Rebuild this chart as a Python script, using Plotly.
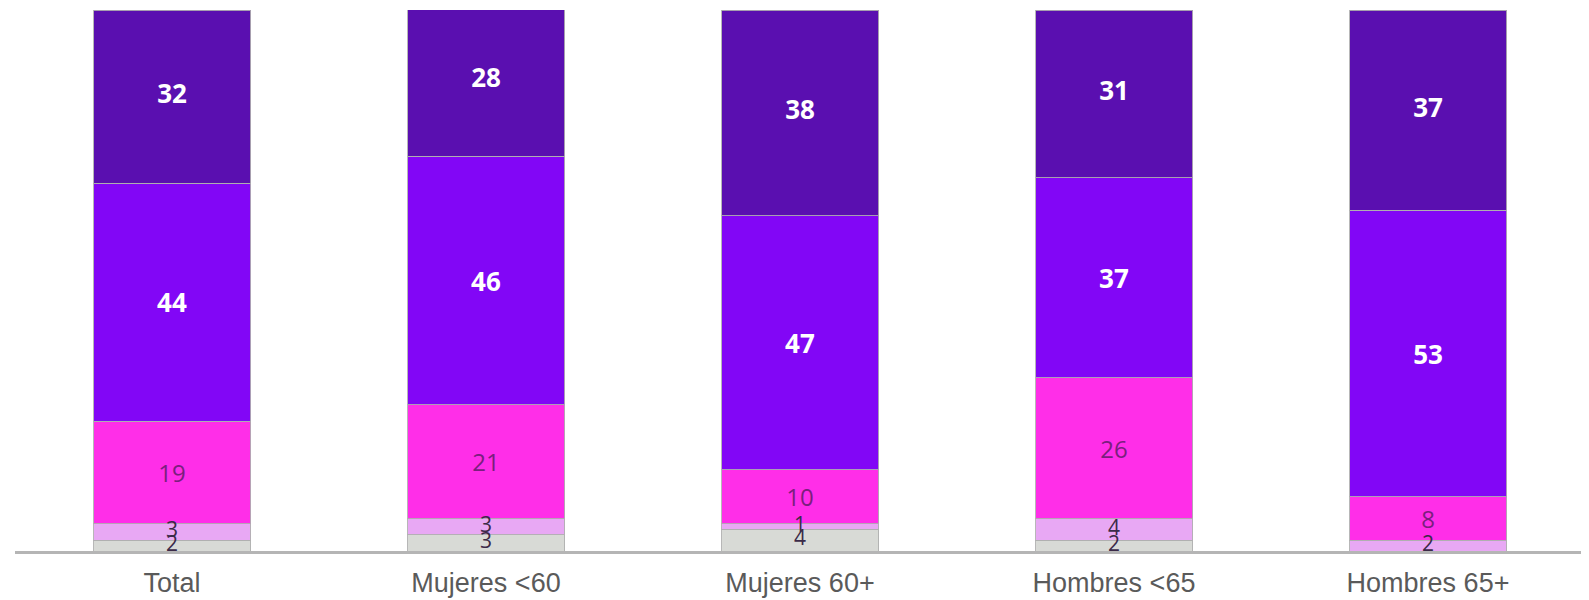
import plotly.graph_objects as go
import numpy as np

categories = ["Total", "Mujeres <60", "Mujeres 60+", "Hombres <65", "Hombres 65+"]
serie_a = [2, 3, 4, 2, 0]        # bottom, light grey
serie_b = [3, 3, 1, 4, 2]        # light lavender
serie_c = [19, 21, 10, 26, 8]    # magenta
serie_d = [44, 46, 47, 37, 53]   # violet
serie_e = [32, 28, 38, 31, 37]   # dark indigo

colors = ["#d8dad6", "#e8a8f4", "#ff2ee8", "#8206f6", "#5a0fb0"]
line = dict(color="rgba(175,175,175,0.9)", width=1)

fig = go.Figure()
for vals, col in [(serie_a, colors[0]), (serie_b, colors[1])]:
    fig.add_trace(go.Bar(x=categories, y=vals, marker=dict(color=col, line=line),
                         width=0.5, textposition="none", hoverinfo="skip"))
fig.add_trace(go.Bar(x=categories, y=serie_c, marker=dict(color=colors[2], line=line),
                     width=0.5, text=[str(v) for v in serie_c], textposition="inside",
                     insidetextanchor="middle", constraintext="none",
                     textfont=dict(family="Open Sans", size=24, color="#7a1f7e")))
fig.add_trace(go.Bar(x=categories, y=serie_d, marker=dict(color=colors[3], line=line),
                     width=0.5, text=["<b>%d</b>" % v for v in serie_d], textposition="inside",
                     insidetextanchor="middle", constraintext="none",
                     textfont=dict(family="Open Sans", size=26, color="white")))
fig.add_trace(go.Bar(x=categories, y=serie_e, marker=dict(color=colors[4], line=line),
                     width=0.5, textposition="none", hoverinfo="skip"))

a = np.array(serie_a, dtype=float)
b = np.array(serie_b, dtype=float)
c_ = np.array(serie_c, dtype=float)
d = np.array(serie_d, dtype=float)
e = np.array(serie_e, dtype=float)

# top segment labels at segment mid-points
base_e = a + b + c_ + d
fig.add_trace(go.Scatter(x=categories, y=base_e + e / 2, text=["<b>%d</b>" % v for v in serie_e],
                         mode="text", cliponaxis=False,
                         textfont=dict(family="Open Sans", size=26, color="white"),
                         hoverinfo="skip"))

# thin bottom segment labels
xs, ys, ts = [], [], []
for i, c in enumerate(categories):
    if a[i] > 0:
        xs.append(c); ys.append(a[i] / 2); ts.append(str(serie_a[i]))
    if b[i] > 0:
        xs.append(c); ys.append(a[i] + b[i] / 2); ts.append(str(serie_b[i]))
fig.add_trace(go.Scatter(x=xs, y=ys, text=ts, mode="text", cliponaxis=False,
                         textfont=dict(family="Open Sans", size=21, color="#3b2a48"),
                         hoverinfo="skip"))

fig.update_layout(
    barmode="stack",
    width=1581, height=592,
    margin=dict(l=7, r=4, t=2, b=47),
    paper_bgcolor="white", plot_bgcolor="white",
    showlegend=False,
    xaxis=dict(showline=True, linecolor="#b5b5b5", linewidth=3, showgrid=False,
               ticks="", tickfont=dict(family="Liberation Sans", size=27, color="#5a5a5a"),
               ticklabelstandoff=6, range=[-0.5, 4.5]),
    yaxis=dict(visible=False, range=[0, 100], showgrid=False),
)
fig.write_html("out.html")
